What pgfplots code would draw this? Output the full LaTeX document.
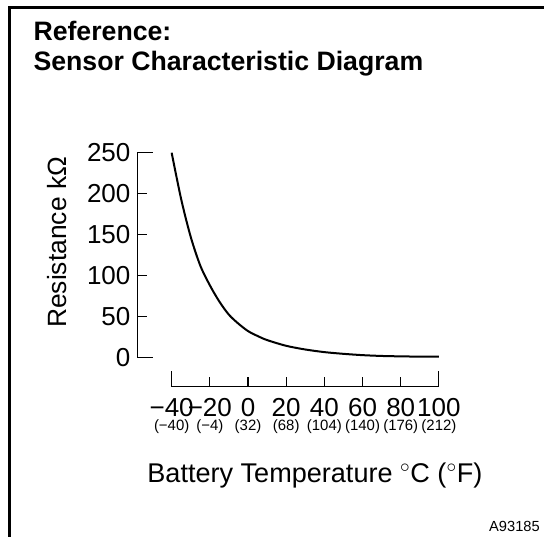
\documentclass[border=0pt]{standalone}
\usepackage{pgfplots}
\pgfplotsset{compat=1.18}
\usepackage{fontspec}
\setmainfont{Liberation Sans}
\newcommand\fs[1]{\fontsize{#1}{#1}\selectfont}
\begin{document}
\begin{tikzpicture}
\useasboundingbox (-103.1pt,-112.7pt) rectangle (304.9pt,290.0pt);
\draw[line width=2pt] (-96.15pt,-120pt) -- (-96.15pt,284.2pt) -- (320pt,284.2pt);
\node[anchor=base west, inner sep=0pt, font=\bfseries\fs{20}] at (-78.15pt,259.5pt) {Reference:};
\node[anchor=base west, inner sep=0pt, font=\bfseries\fs{20}] at (-78.15pt,237.5pt) {Sensor Characteristic Diagram};
\begin{axis}[
  at={(0,0)}, anchor=south west,
  scale only axis, width=226.1pt, height=175.5pt,
  xmin=-57.91, xmax=100, ymin=-35.92, ymax=250,
  axis lines*=left,
  clip=false,
  axis line style={line width=0.8pt},
  x axis line style={shorten <=25.65pt},
  y axis line style={shorten <=22.05pt},
  tick align=inside,
  every tick/.style={black, line width=0.8pt},
  major tick length=7pt,
  minor tick length=11.5pt,
  xtick={-40,-20,0,20,40,60,80,100},
  minor xtick={-40,100},
  xticklabels={−40,−20,0,20,40,60,80,100},
  ytick={0,50,100,150,200,250},
  minor ytick={0,250},
  yticklabels={0,50,100,150,200,250},
  xticklabel style={font=\fs{19.5}, anchor=base, inner sep=0pt, yshift=-22.5pt},
  yticklabel style={font=\fs{19.5}, anchor=east, inner sep=0pt, xshift=-5.1pt},
  extra x ticks={-40,-20,0,20,40,60,80,100},
  extra x tick labels={(−40),(−4),(32),(68),(104),(140),(176),(212)},
  extra x tick style={/pgfplots/major tick length=0pt, xticklabel style={font=\fs{11.2}, yshift=-10.7pt}},
  xlabel={Battery Temperature $^\circ$C ($^\circ$F)},
  xlabel style={at={(rel axis cs:0.5885,-0.4114)}, anchor=base, inner sep=0pt, font=\fs{20.3}},
  ylabel={Resistance kΩ},
  ylabel style={at={(rel axis cs:-0.2671,0.6165)}, anchor=center, inner sep=0pt, font=\fs{19.8}},
]
\addplot[line width=1.5pt, smooth, no marks] coordinates {
(-40,250) (-35,193) (-30,147) (-25,112) (-20,88) (-15,68) (-10,52) (-5,41)
(0,32) (5,26) (10,21) (20,14) (30,9.5) (40,6.3) (50,4.2) (60,2.6) (70,1.6)
(80,1.1) (90,0.8) (100,0.7)
};
\end{axis}
\node[anchor=base east, inner sep=0pt, font=\fs{11}] at (301.9pt,-108.75pt) {A93185};
\end{tikzpicture}
\end{document}
